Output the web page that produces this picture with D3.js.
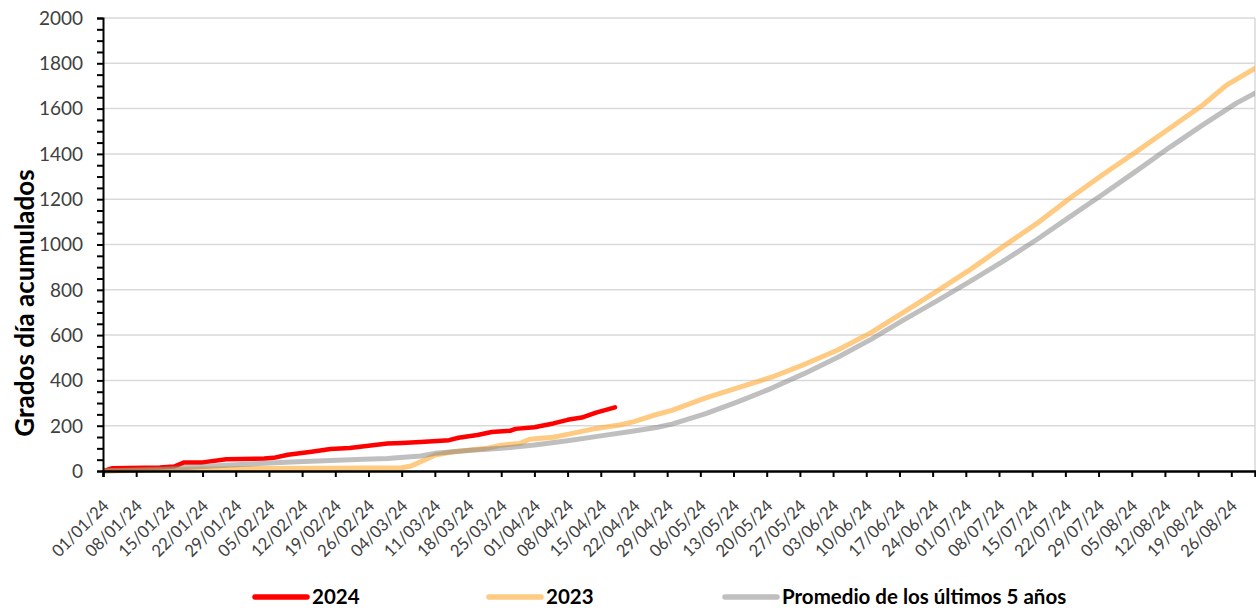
<!DOCTYPE html>
<html>
<head>
<meta charset="utf-8">
<script src="https://cdn.jsdelivr.net/npm/d3@7"></script>
<style>
  body { margin: 0; background: #fff; }
  svg { display: block; }
  text { font-family: Lato, "Open Sans", sans-serif; }
</style>
</head>
<body>
<svg id="chart" width="1256" height="610"></svg>
<script>
// ---- data ----
const dates2024 = ["2024-01-01","2024-01-03","2024-01-13","2024-01-16","2024-01-18","2024-01-22","2024-01-27","2024-02-04","2024-02-06","2024-02-09","2024-02-14","2024-02-18","2024-02-22","2024-03-01","2024-03-04","2024-03-08","2024-03-14","2024-03-16","2024-03-20","2024-03-23","2024-03-27","2024-03-28","2024-04-01","2024-04-05","2024-04-08","2024-04-11","2024-04-14","2024-04-18"];
const values2024 = [0,12,16,20,37,38,52,55,58,72,85,97,102,121,124,128,136,147,159,172,178,186,193,210,226,236,258,281];

const dates2023 = ["2024-01-01","2024-01-15","2024-01-22","2024-02-05","2024-02-19","2024-03-04","2024-03-06","2024-03-08","2024-03-11","2024-03-15","2024-03-22","2024-03-25","2024-03-29","2024-03-31","2024-04-05","2024-04-09","2024-04-14","2024-04-19","2024-04-22","2024-04-26","2024-04-30","2024-05-07","2024-05-14","2024-05-21","2024-05-28","2024-06-04","2024-06-11","2024-06-18","2024-06-25","2024-07-02","2024-07-09","2024-07-16","2024-07-23","2024-07-30","2024-08-06","2024-08-13","2024-08-20","2024-08-25","2024-08-31"];
const values2023 = [0,6,9,11,12,14,22,41,70,85,100,114,122,140,149,166,188,203,218,245,268,322,368,414,471,534,611,703,795,890,993,1093,1205,1310,1410,1513,1616,1704,1778];

const datesAvg = ["2024-01-01","2024-01-14","2024-01-21","2024-01-28","2024-02-04","2024-02-11","2024-02-18","2024-02-25","2024-03-01","2024-03-08","2024-03-11","2024-03-18","2024-03-25","2024-04-01","2024-04-08","2024-04-15","2024-04-22","2024-04-27","2024-04-30","2024-05-07","2024-05-14","2024-05-21","2024-05-28","2024-06-04","2024-06-11","2024-06-18","2024-06-25","2024-07-02","2024-07-09","2024-07-16","2024-07-23","2024-07-30","2024-08-06","2024-08-13","2024-08-20","2024-08-27","2024-08-31"];
const valuesAvg = [0,9,19,26,34,41,46,52,55,66,78,90,100,115,134,155,177,193,207,252,306,365,431,502,581,668,752,838,928,1022,1123,1223,1325,1429,1528,1623,1668];

const seriesNames = ["2024","2023","Promedio de los últimos 5 años"];
const yTicks = [0,200,400,600,800,1000,1200,1400,1600,1800,2000];
const yAxisTitle = "Grados día acumulados";
const xStart = "2024-01-01", xEnd = "2024-08-31";

// ---- layout ----
const svg = d3.select("#chart");
const L = 103, R = 1255, T = 18, B = 471;
const parse = d3.utcParse("%Y-%m-%d");
const x = d3.scaleUtc().domain([parse(xStart), parse(xEnd)]).range([L, R]);
const y = d3.scaleLinear().domain([0, 2000]).range([B, T]);

// gridlines
svg.append("g").selectAll("line").data(yTicks.filter(v => v > 0)).join("line")
  .attr("x1", L).attr("x2", R).attr("y1", d => y(d)).attr("y2", d => y(d))
  .attr("stroke", "#d9d9d9").attr("stroke-width", 1.5);
// right border
svg.append("line").attr("x1", R).attr("x2", R).attr("y1", T).attr("y2", B)
  .attr("stroke", "#d9d9d9").attr("stroke-width", 1.5);

// lines
svg.append("defs").append("clipPath").attr("id", "clip")
  .append("rect").attr("x", L).attr("y", 0).attr("width", R - L).attr("height", B + 5);
const line = d3.line().x(d => x(d[0])).y(d => y(d[1]));
const mk = (ds, vs) => ds.map((d, i) => [parse(d), vs[i]]);
const gl = svg.append("g").attr("clip-path", "url(#clip)");
const styles = [
  {color: "#ff0000", op: 1, w: 4.5},
  {color: "#ffaa33", op: 0.62, w: 5},
  {color: "#808080", op: 0.5, w: 5}
];
const data = [mk(dates2024, values2024), mk(dates2023, values2023), mk(datesAvg, valuesAvg)];
data.forEach((d, i) => {
  gl.append("path").datum(d).attr("d", line)
    .attr("fill", "none").attr("stroke", styles[i].color)
    .attr("stroke-opacity", styles[i].op).attr("stroke-width", styles[i].w)
    .attr("stroke-linejoin", "round").attr("stroke-linecap", "round");
});

// y axis
const yAxis = d3.axisLeft(y).tickValues(d3.range(0, 2001, 50)).tickSize(6).tickFormat("");
const gy = svg.append("g").attr("transform", `translate(${L},0)`).call(yAxis);
gy.select(".domain").attr("stroke", "#000").attr("stroke-width", 2);
gy.selectAll(".tick line").attr("stroke", "#000").attr("stroke-width", 2);
svg.append("g").selectAll("text").data(yTicks).join("text")
  .attr("x", L - 20).attr("y", d => y(d)).attr("dy", "0.36em")
  .attr("text-anchor", "end").attr("fill", "#404040").attr("font-size", 19)
  .text(d => d);

// x axis
const xTickVals = d3.utcDay.range(parse(xStart), parse(xEnd), 7);
const xAxis = d3.axisBottom(x).tickValues(xTickVals).tickSize(6).tickFormat("");
const gx = svg.append("g").attr("transform", `translate(0,${B})`).call(xAxis);
gx.select(".domain").attr("stroke", "#000").attr("stroke-width", 2.5);
gx.selectAll(".tick line").attr("stroke", "#000").attr("stroke-width", 2);
const fmt = d3.utcFormat("%d/%m/%y");
svg.append("g").selectAll("text").data(xTickVals).join("text")
  .attr("transform", d => `translate(${x(d) + 7},${B + 36}) rotate(-45)`)
  .attr("text-anchor", "end").attr("fill", "#404040").attr("font-size", 17)
  .attr("textLength", 72).attr("lengthAdjust", "spacingAndGlyphs")
  .text(d => fmt(d));

// y title
svg.append("text")
  .attr("transform", `translate(34,303) rotate(-90)`)
  .attr("text-anchor", "middle").attr("font-weight", "bold").attr("font-size", 26)
  .attr("fill", "#000").text(yAxisTitle);

// legend
const legX = [255, 489, 725];
const lg = svg.append("g");
seriesNames.forEach((n, i) => {
  lg.append("line").attr("x1", legX[i]).attr("x2", legX[i] + 52)
    .attr("y1", 597).attr("y2", 597)
    .attr("stroke", styles[i].color).attr("stroke-opacity", styles[i].op)
    .attr("stroke-width", 5.5).attr("stroke-linecap", "round");
  lg.append("text").attr("x", legX[i] + 57).attr("y", 597).attr("dy", "0.36em")
    .attr("font-weight", "bold").attr("font-size", 20.5).attr("fill", "#000").text(n);
});
</script>
</body>
</html>
